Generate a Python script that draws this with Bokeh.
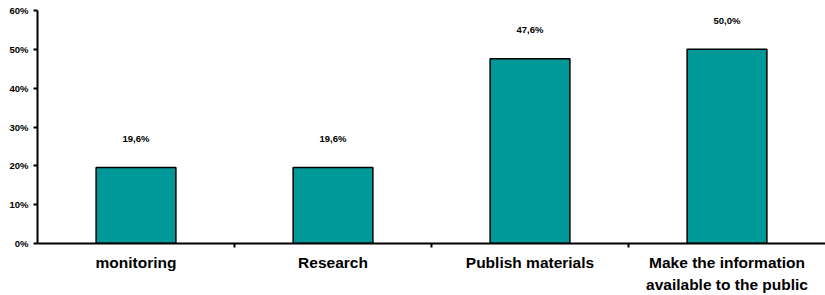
from bokeh.plotting import figure
from bokeh.models import ColumnDataSource, Range1d, FixedTicker
from bokeh.core.properties import value
from bokeh.embed import file_html
from bokeh.resources import INLINE

categories = ["monitoring", "Research", "Publish materials", "Make the information\navailable to the public"]
values = [19.6, 19.6, 47.6, 50.0]
value_labels = ["19,6%", "19,6%", "47,6%", "50,0%"]
y_ticks = [0, 10, 20, 30, 40, 50, 60]
y_tick_labels = ["0%", "10%", "20%", "30%", "40%", "50%", "60%"]

FONT = "Liberation Sans"

xs = [i + 0.5 for i in range(len(categories))]
src = ColumnDataSource(dict(x=xs, top=values, lab=value_labels))

p = figure(width=825, height=295, output_backend="svg", toolbar_location=None,
           x_range=Range1d(0, len(categories)), y_range=Range1d(0, 60),
           min_border_left=37, min_border_right=0, min_border_top=10, min_border_bottom=52)
p.outline_line_color = None
p.xgrid.visible = False
p.ygrid.visible = False

p.vbar(x="x", top="top", width=0.405, bottom=0, source=src,
       fill_color="#009999", line_color="black", line_width=1.5)
p.text(x="x", y="top", text="lab", source=src, y_offset=-29,
       text_align="center", text_baseline="middle",
       text_font=value(FONT), text_font_style="bold", text_font_size="9.5px", text_color="black")

# y axis
p.yaxis.ticker = FixedTicker(ticks=y_ticks)
p.yaxis.major_label_overrides = {t: l for t, l in zip(y_ticks, y_tick_labels)}
p.yaxis.major_label_text_font = FONT
p.yaxis.major_label_text_font_style = "bold"
p.yaxis.major_label_text_font_size = "9.5px"
p.yaxis.major_label_text_color = "black"
p.yaxis.axis_line_width = 2
p.yaxis.axis_line_color = "black"
p.yaxis.major_tick_out = 4
p.yaxis.major_tick_in = 0
p.yaxis.major_tick_line_width = 2
p.yaxis.minor_tick_out = 0
p.yaxis.minor_tick_in = 0
p.yaxis.major_label_standoff = 5

# x axis: labels at category centres, ticks at category boundaries
p.xaxis.ticker = FixedTicker(ticks=xs, minor_ticks=list(range(1, len(categories))))
p.xaxis.major_label_overrides = {x: c for x, c in zip(xs, categories)}
p.xaxis.major_label_text_font = FONT
p.xaxis.major_label_text_font_style = "bold"
p.xaxis.major_label_text_font_size = "15.5px"
p.xaxis.major_label_text_line_height = 1.3
p.xaxis.major_label_text_color = "black"
p.xaxis.axis_line_width = 2
p.xaxis.axis_line_color = "black"
p.xaxis.major_tick_out = 0
p.xaxis.major_tick_in = 0
p.xaxis.minor_tick_out = 4
p.xaxis.minor_tick_in = 0
p.xaxis.minor_tick_line_width = 2
p.xaxis.minor_tick_line_color = "black"
p.xaxis.major_label_standoff = 6

open("out.html", "w").write(file_html(p, INLINE))
